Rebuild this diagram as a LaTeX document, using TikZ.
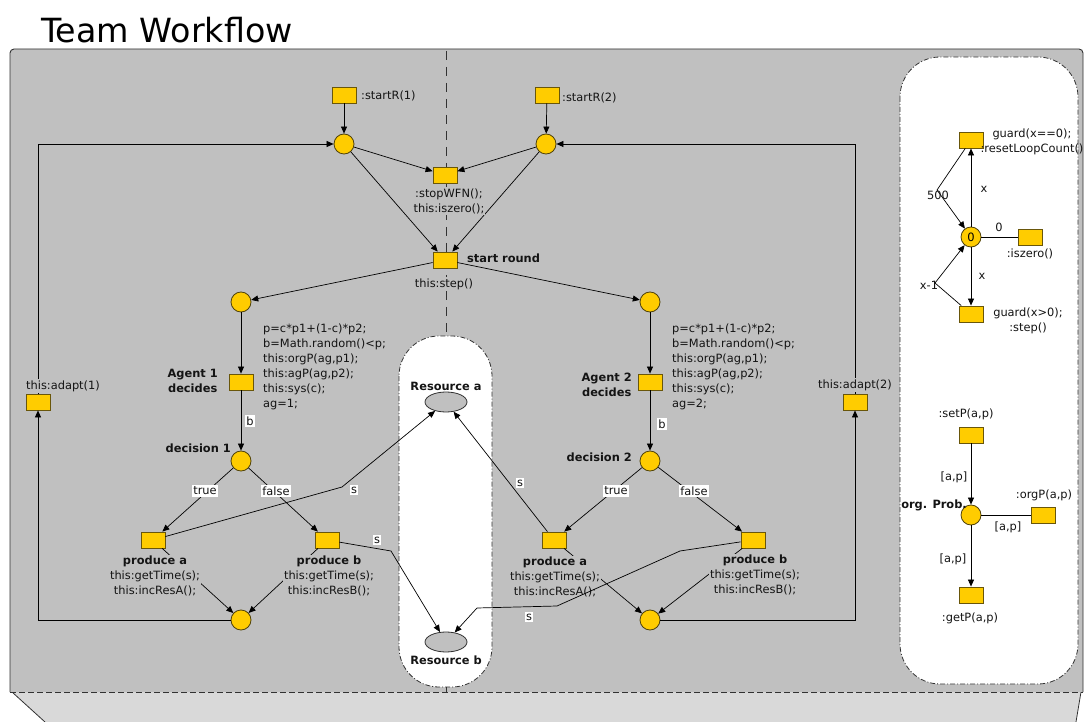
\documentclass[tikz,border=0pt]{standalone}
\usepackage{fontspec}
\setmainfont{DejaVu Sans}
\usetikzlibrary{arrows.meta,shapes.geometric}
\definecolor{panelgray}{RGB}{192,192,192}
\definecolor{lightbottom}{RGB}{217,217,217}
\definecolor{pnyellow}{RGB}{255,204,0}
\definecolor{trborder}{RGB}{105,86,10}
\definecolor{plborder}{RGB}{80,66,10}
\definecolor{darkline}{RGB}{50,50,50}
\definecolor{textcol}{RGB}{20,20,20}
\tikzset{
  tr/.style={rectangle, minimum width=24pt, minimum height=16pt, inner sep=0pt, fill=pnyellow, draw=trborder, line width=0.8pt},
  pl/.style={circle, minimum size=20pt, inner sep=0pt, fill=pnyellow, draw=plborder, line width=0.8pt, font=\fontsize{11.5}{12}\selectfont},
  res/.style={ellipse, minimum width=42pt, minimum height=20pt, inner sep=0pt, fill=panelgray, draw=darkline, line width=0.8pt},
  lbl/.style={font=\fontsize{11.4}{15}\selectfont, inner sep=1pt, text=textcol},
  glbl/.style={lbl, fill=panelgray},
  blbl/.style={lbl, font=\fontsize{11.4}{15}\selectfont\bfseries},
  wlbl/.style={lbl, fill=white, inner sep=1.5pt},
  arc/.style={draw=black, line width=0.7pt, -{Triangle[length=7pt,width=6pt]}},
  plainarc/.style={draw=black, line width=0.7pt},
  dashdotline/.style={dash pattern=on 5pt off 2pt on 1pt off 2pt},
}
\begin{document}
\begin{tikzpicture}[x=1pt,y=-1pt]
\useasboundingbox (0,0) rectangle (1085,722);
% bottom light area
\fill[lightbottom] (12,692) -- (45,722) -- (1076,722) -- (1081,692) -- cycle;
\draw[darkline, line width=0.8pt] (12,692) -- (45,722);
\draw[darkline, line width=0.8pt] (1081,692) -- (1076,722);
% main gray panel
\fill[panelgray] (10,692) [rounded corners=4pt] -- (10,49) -- (1083,49) [sharp corners] -- (1083,692) -- cycle;
\draw[darkline, line width=0.9pt] (10,692) [rounded corners=4pt] -- (10,49) -- (1083,49) [sharp corners] -- (1083,692);
\draw[darkline, line width=0.9pt, dash pattern=on 6pt off 3pt] (10,692) -- (1083,692);
% title
\node[anchor=base west, inner sep=0pt, font=\fontsize{33.3}{38}\selectfont] (title) at (41,43) {Team Workflow};
% white panels
\draw[fill=white, draw=darkline, line width=0.8pt, dashdotline, rounded corners=40pt] (900,57) rectangle (1078,684);
\draw[fill=white, draw=darkline, line width=0.8pt, dashdotline, rounded corners=40pt] (399,336) rectangle (492,687);
% partition line
\draw[darkline, line width=0.8pt, dash pattern=on 9pt off 7pt] (446,51) -- (446,336);
\draw[darkline, line width=0.8pt] (446,687) -- (446,692);

% ---------- nodes ----------
\node[tr] (st1) at (344,95) {};
\node[tr] (st2) at (547,95) {};
\node[pl] (p1) at (344,144) {};
\node[pl] (p2) at (546,144) {};
\node[tr] (stop) at (445,175) {};
\node[tr] (sr) at (445,260) {};
\node[pl] (a1) at (241,302) {};
\node[pl] (a2) at (650,302) {};
\node[tr] (ag1) at (241,382) {};
\node[tr] (ag2) at (650,382) {};
\node[pl] (d1) at (241,461) {};
\node[pl] (d2) at (650,461) {};
\node[tr] (pa1) at (153,540) {};
\node[tr] (pb1) at (327,540) {};
\node[tr] (pa2) at (554,540) {};
\node[tr] (pb2) at (753,540) {};
\node[pl] (bl) at (241,620) {};
\node[pl] (br) at (650,620) {};
\node[tr] (ad1) at (38,402) {};
\node[tr] (ad2) at (855,402) {};
\node[res] (resA) at (446,402) {};
\node[res] (resB) at (446,642) {};
% right panel
\node[tr] (g0) at (971,140) {};
\node[pl] (p0) at (971,237) {0};
\node[tr] (isz) at (1030,237) {};
\node[tr] (gp) at (971,314) {};
\node[tr] (setp) at (971,435) {};
\node[pl] (op) at (971,515) {};
\node[tr] (orgp) at (1043,515) {};
\node[tr] (getp) at (971,595) {};

% ---------- arcs (below labels) ----------
\draw[arc] (st1) -- (p1);
\draw[arc] (st2) -- (p2);
\draw[arc] (p1) -- (stop);
\draw[arc] (p2) -- (stop);
\draw[arc] (p1) -- (sr);
\draw[arc] (p2) -- (sr);
\draw[arc] (sr) -- (a1);
\draw[arc] (sr) -- (a2);
\draw[arc] (a1) -- (ag1);
\draw[arc] (a2) -- (ag2);
\draw[arc] (ag1) -- (d1);
\draw[arc] (ag2) -- (d2);
\draw[arc] (d1) -- (pa1);
\draw[arc] (d1) -- (pb1);
\draw[arc] (d2) -- (pa2);
\draw[arc] (d2) -- (pb2);
\draw[arc] (pa1) -- (bl);
\draw[arc] (pb1) -- (bl);
\draw[arc] (pa2) -- (br);
\draw[arc] (pb2) -- (br);
\draw[arc] (bl) -| (ad1);
\draw[arc] (ad1) |- (p1);
\draw[arc] (br) -| (ad2);
\draw[arc] (ad2) |- (p2);
% right panel arcs
\coordinate (k500) at (937,190);
\coordinate (kx1) at (935,283);
\draw[arc] (p0) -- (g0);
\draw[arc] (g0) -- (k500) -- (p0);
\draw[plainarc] (p0) -- (isz);
\draw[arc] (p0) -- (gp);
\draw[arc] (gp) -- (kx1) -- (p0);
\draw[arc] (setp) -- (op);
\draw[plainarc] (op) -- (orgp);
\draw[arc] (op) -- (getp);

% ---------- labels ----------
\node[lbl, anchor=west] (lst1) at (360,96) {:startR(1)};
\node[lbl, anchor=west] (lst2) at (561,98) {:startR(2)};
\node[glbl, align=center] (lstop) at (449,201) {:stopWFN();\\this:iszero();};
\node[blbl, anchor=west] (lsr) at (466,258) {start round};
\node[glbl] (lstep) at (444,284) {this:step()};
\node[glbl, anchor=west, align=left] (code1) at (262,367) {p=c*p1+(1-c)*p2;\\b=Math.random()<p;\\this:orgP(ag,p1);\\this:agP(ag,p2);\\this:sys(c);\\ag=1;};
\node[glbl, anchor=west, align=left] (code2) at (671,367) {p=c*p1+(1-c)*p2;\\b=Math.random()<p;\\this:orgP(ag,p1);\\this:agP(ag,p2);\\this:sys(c);\\ag=2;};
\node[blbl, anchor=east, align=center] (lag1) at (219,381) {Agent 1\\decides};
\node[blbl, anchor=east, align=center] (lag2) at (633,385) {Agent 2\\decides};
\node[wlbl] (lb1) at (250,421) {b};
\node[wlbl] (lb2) at (662,424) {b};
\node[blbl, anchor=east] (ld1) at (232,448) {decision 1};
\node[blbl, anchor=east] (ld2) at (633,457) {decision 2};
\node[wlbl] (lt1) at (205,491) {true};
\node[wlbl] (lf1) at (276,491) {false};
\node[wlbl] (lt2) at (616,491) {true};
\node[wlbl] (lf2) at (694,491) {false};
\node[glbl, align=center] (lpa1) at (155,576) {\textbf{produce a}\\this:getTime(s);\\this:incResA();};
\node[glbl, align=center] (lpb1) at (329,576) {\textbf{produce b}\\this:getTime(s);\\this:incResB();};
\node[glbl, align=center] (lpa2) at (555,577) {\textbf{produce a}\\this:getTime(s);\\this:incResA();};
\node[glbl, align=center] (lpb2) at (755,575) {\textbf{produce b}\\this:getTime(s);\\this:incResB();};
\node[glbl] (lad1) at (63,386) {this:adapt(1)};
\node[glbl] (lad2) at (855,385) {this:adapt(2)};
\node[blbl] (lresA) at (446,386) {Resource a};
\node[blbl] (lresB) at (446,660) {Resource b};

% ---------- resource arcs (drawn over labels) ----------
\coordinate (ka) at (342,487);
\coordinate (kb) at (391,551);
\coordinate (kc1) at (680,551);
\coordinate (kc2) at (557,606);
\coordinate (kc3) at (477,608);
\draw[arc] (pa1) -- (ka) -- (resA);
\draw[arc] (pb1) -- (kb) -- (resB);
\draw[arc] (pa2) -- (resA);
\draw[arc] (pb2) -- (kc1) -- (kc2) -- (kc3) -- (resB);
\node[wlbl] (ls1) at (354,490) {s};
\node[wlbl] (ls2) at (377,540) {s};
\node[wlbl] (ls3) at (520,483) {s};
\node[wlbl] (ls4) at (529,617) {s};

% ---------- right panel labels ----------
\node[lbl, align=center] (lg0) at (1032,142) {guard(x==0);\\:resetLoopCount()};
\node[lbl] (lx1) at (984,189) {x};
\node[lbl] (l500) at (938,195) {500};
\node[lbl] (l0) at (999,227) {0};
\node[lbl] (lisz) at (1030,254) {:iszero()};
\node[lbl] (lx2) at (982,276) {x};
\node[lbl] (lxm) at (929,285) {x-1};
\node[lbl, align=center] (lgp) at (1028,321) {guard(x>0);\\:step()};
\node[lbl] (lsetp) at (966,414) {:setP(a,p)};
\node[lbl] (lap1) at (954,477) {[a,p]};
\node[blbl, anchor=east] (lop) at (968,505) {org. Prob.};
\node[lbl] (lorgp) at (1044,495) {:orgP(a,p)};
\node[lbl] (lap2) at (1008,527) {[a,p]};
\node[lbl] (lap3) at (953,559) {[a,p]};
\node[lbl] (lgetp) at (970,618) {:getP(a,p)};
\end{tikzpicture}
\end{document}
